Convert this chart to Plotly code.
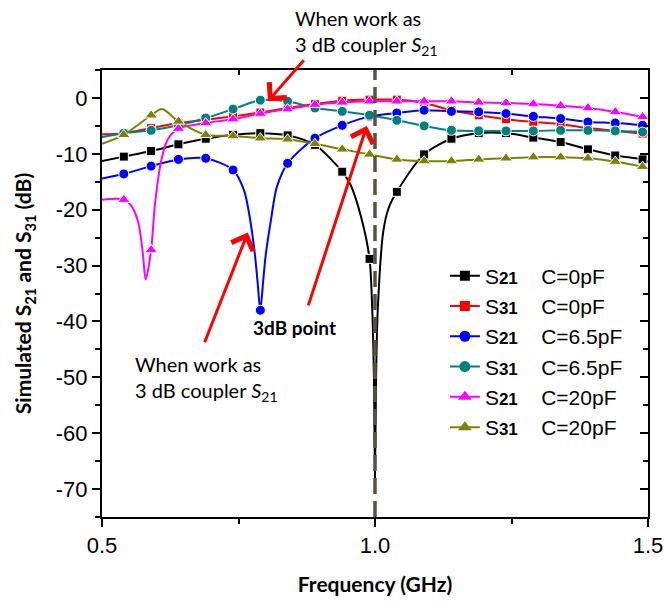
import plotly.graph_objects as go

# ---------------- data ----------------
FREQ_MARK = [0.54, 0.59, 0.64, 0.69, 0.74, 0.79, 0.84, 0.89, 0.94, 0.99,
             1.04, 1.09, 1.14, 1.19, 1.24, 1.29, 1.34, 1.39, 1.44, 1.49]

# S21, C=0pF (marker values)
S21_C0 = [-10.5, -9.5, -8.3, -7.3, -6.6, -6.3, -6.7, -8.4, -13.2, -28.8,
          -16.8, -10.1, -7.3, -6.3, -6.3, -7.1, -7.9, -9.2, -10.3, -11.0]
S21_C0_EXTRA_X = [0.5, 0.955, 0.975, 0.995, 0.998, 1.0, 1.002, 1.005, 1.015, 1.025, 1.5]
S21_C0_EXTRA_Y = [-11.3, -15.5, -21.5, -38.0, -50.0, -68.0, -50.0, -38.0, -24.0, -19.7, -11.4]

# S31, C=0pF
S31_C0 = [-6.3, -5.4, -4.5, -3.9, -3.3, -2.6, -1.8, -1.1, -0.5, -0.3,
          -0.3, -0.9, -2.2, -3.1, -3.8, -4.3, -4.7, -5.4, -5.9, -6.4]
S31_C0_EXTRA_X = [0.5, 1.5]
S31_C0_EXTRA_Y = [-6.5, -6.6]

# S21, C=6.5pF
S21_C65 = [-13.6, -12.2, -11.0, -10.8, -12.9, -38.0, -11.7, -7.2, -4.9, -3.3,
           -2.7, -2.2, -2.4, -2.5, -2.8, -3.3, -3.7, -4.3, -4.5, -4.9]
S21_C65_EXTRA_X = [0.5, 0.76, 0.77, 0.78, 0.785, 0.795, 0.80, 0.81, 0.82, 1.5]
S21_C65_EXTRA_Y = [-14.4, -16.5, -21.0, -28.0, -33.0, -33.0, -28.0, -21.5, -16.0, -5.0]

# S31, C=6.5pF
S31_C65 = [-6.3, -5.8, -4.9, -3.6, -2.0, -0.4, -0.6, -1.8, -2.4, -3.1,
           -4.0, -5.0, -5.8, -5.9, -5.9, -5.9, -5.8, -5.8, -5.9, -6.1]
S31_C65_EXTRA_X = [0.5, 1.5]
S31_C65_EXTRA_Y = [-7.0, -6.2]

# S21, C=20pF
S21_C20 = [-18.2, -27.2, -5.5, -4.5, -3.8, -2.8, -2.0, -1.2, -0.8, -0.6,
           -0.6, -0.6, -0.6, -0.8, -0.9, -1.1, -1.4, -1.8, -2.5, -3.4]
S21_C20_EXTRA_X = [0.5, 0.555, 0.567, 0.575, 0.58, 0.597, 0.609, 0.621, 1.5]
S21_C20_EXTRA_Y = [-18.2, -19.5, -22.5, -28.0, -32.5, -19.0, -11.0, -7.3, -3.7]

# S31, C=20pF
S31_C20 = [-6.6, -3.1, -4.2, -6.6, -6.8, -7.2, -7.4, -8.2, -9.2, -10.1,
           -11.0, -11.3, -11.3, -11.0, -10.8, -10.6, -10.6, -10.8, -11.4, -12.3]
S31_C20_EXTRA_X = [0.5, 0.61, 1.5]
S31_C20_EXTRA_Y = [-8.2, -2.0, -12.6]

X_TICKS = [0.5, 1.0, 1.5]
X_TICK_TEXT = ["0.5", "1.0", "1.5"]
Y_TICKS = [0, -10, -20, -30, -40, -50, -60, -70]
Y_TICK_TEXT = ["0", "-10", "-20", "-30", "-40", "-50", "-60", "-70"]

SERIES = [
    ("S21", "C=0pF", S21_C0, S21_C0_EXTRA_X, S21_C0_EXTRA_Y, "#000000", "square", 9),
    ("S31", "C=0pF", S31_C0, S31_C0_EXTRA_X, S31_C0_EXTRA_Y, "#ff0000", "square", 9),
    ("S21", "C=6.5pF", S21_C65, S21_C65_EXTRA_X, S21_C65_EXTRA_Y, "#0000ff", "circle", 10),
    ("S31", "C=6.5pF", S31_C65, S31_C65_EXTRA_X, S31_C65_EXTRA_Y, "#008080", "circle", 10),
    ("S21", "C=20pF", S21_C20, S21_C20_EXTRA_X, S21_C20_EXTRA_Y, "#ff00ff", "triangle-up", 11),
    ("S31", "C=20pF", S31_C20, S31_C20_EXTRA_X, S31_C20_EXTRA_Y, "#808000", "triangle-up", 11),
]

TXT = "Liberation Sans, Arial, sans-serif"
CAL = "Lato, Open Sans, sans-serif"

fig = go.Figure()

for i, (sp, cap, ym, ex, ey, col, sym, ms) in enumerate(SERIES):
    pts = [(x, y, ms) for x, y in zip(FREQ_MARK, ym)] + [(x, y, 0) for x, y in zip(ex, ey)]
    pts.sort(key=lambda p: p[0])
    fig.add_trace(go.Scatter(
        x=[p[0] for p in pts], y=[p[1] for p in pts],
        mode="lines+markers",
        line=dict(color=col, width=2, shape="spline", smoothing=0.8),
        marker=dict(symbol=sym, color=col, size=[p[2] for p in pts], opacity=1),
        showlegend=False, hoverinfo="skip",
    ))

for i, (sp, cap, ym, ex, ey, col, sym, ms) in enumerate(SERIES):
    label = ("S<span style='font-size:17px'><b>%s</b></span>\u00a0\u00a0\u00a0\u00a0%s" % (sp[1:], cap))
    fig.add_trace(go.Scatter(
        x=[None], y=[None], mode="lines+markers", name=label,
        line=dict(color=col, width=2),
        marker=dict(symbol=sym, color=col, size=ms + 1, opacity=1),
        legendgroup="g%d" % i, showlegend=True,
    ))

# dummy traces for inward mirrored ticks
fig.add_trace(go.Scatter(x=[None], y=[None], xaxis="x2", yaxis="y", showlegend=False))
fig.add_trace(go.Scatter(x=[None], y=[None], xaxis="x", yaxis="y2", showlegend=False))

fig.add_shape(type="line", x0=1.0, x1=1.0, y0=-75, y1=5, xref="x", yref="y",
              line=dict(color="#57523f", width=3.5, dash="16px,7px"))

arrow_common = dict(showarrow=True, arrowhead=4, arrowsize=1.5, arrowwidth=3,
                    arrowcolor="#ff0000", axref="x", ayref="y", xref="x", yref="y",
                    text="", standoff=0)
fig.add_annotation(x=0.804, y=-0.6, ax=0.872, ay=7.0, **arrow_common)
fig.add_annotation(x=0.985, y=-5.0, ax=0.877, ay=-37.4, **arrow_common)
fig.add_annotation(x=0.767, y=-24.1, ax=0.687, ay=-44.0, **arrow_common)

fig.add_annotation(xref="paper", yref="paper", x=0.35, y=1.085, xanchor="left", yanchor="middle",
                   align="left", showarrow=False,
                   text="When work as<br>3 dB coupler <i>S</i><sub>21</sub>",
                   font=dict(family=CAL, size=20, color="#000000"))
fig.add_annotation(xref="paper", yref="paper", x=0.057, y=0.31, xanchor="left", yanchor="middle",
                   align="left", showarrow=False,
                   text="When work as<br>3 dB coupler <i>S</i><sub>21</sub>",
                   font=dict(family=CAL, size=20, color="#000000"))
fig.add_annotation(xref="paper", yref="paper", x=0.353, y=0.425, xanchor="center", yanchor="middle",
                   showarrow=False, text="<b>3dB point</b>",
                   font=dict(family=CAL, size=19, color="#000000"))

axis_common = dict(showgrid=False, zeroline=False, showline=True, linecolor="#000000",
                   linewidth=2, tickcolor="#000000", tickwidth=2, automargin=False)

fig.update_layout(
    width=665, height=602,
    margin=dict(l=102, r=17, t=70, b=85),
    paper_bgcolor="white", plot_bgcolor="white",
    font=dict(family=TXT, size=21, color="#000000"),
    xaxis=dict(range=[0.5, 1.5], tickvals=X_TICKS, ticktext=X_TICK_TEXT,
               ticks="outside", ticklen=8,
               minor=dict(dtick=0.25, tick0=0.5, ticks="outside", ticklen=5, tickwidth=2, tickcolor="#000000"),
               title=dict(text="<b>Frequency (GHz)</b>", font=dict(family=CAL, size=21), standoff=20),
               tickfont=dict(family=TXT, size=22), **axis_common),
    yaxis=dict(range=[-75, 5], tickvals=Y_TICKS, ticktext=Y_TICK_TEXT,
               ticks="outside", ticklen=8,
               minor=dict(dtick=5, tick0=0, ticks="outside", ticklen=5, tickwidth=2, tickcolor="#000000"),
               title=dict(text="<b>Simulated S<sub>21</sub> and S<sub>31</sub> (dB)</b>",
                          font=dict(family=CAL, size=21), standoff=18),
               tickfont=dict(family=TXT, size=22), **axis_common),
    xaxis2=dict(range=[0.5, 1.5], overlaying="x", side="top", tickvals=X_TICKS,
                showticklabels=False, ticks="inside", ticklen=8,
                minor=dict(dtick=0.25, tick0=0.5, ticks="inside", ticklen=5, tickwidth=2, tickcolor="#000000"),
                **axis_common),
    yaxis2=dict(range=[-75, 5], overlaying="y", side="right", tickvals=Y_TICKS,
                showticklabels=False, ticks="inside", ticklen=8,
                minor=dict(dtick=5, tick0=0, ticks="inside", ticklen=5, tickwidth=2, tickcolor="#000000"),
                **axis_common),
    legend=dict(x=0.628, y=0.585, xanchor="left", yanchor="top",
                bgcolor="rgba(0,0,0,0)", borderwidth=0,
                font=dict(family=TXT, size=21), tracegroupgap=0),
)

fig.write_html("out.html")
